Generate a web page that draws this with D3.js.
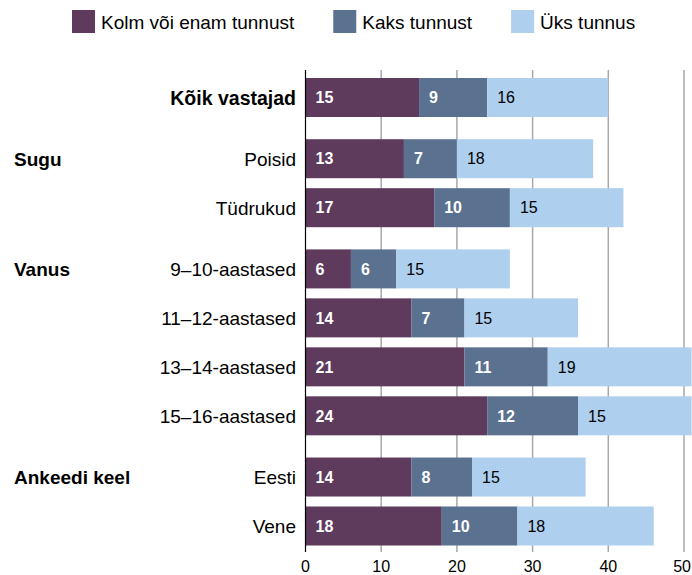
<!DOCTYPE html>
<html>
<head>
<meta charset="utf-8">
<script src="https://cdn.jsdelivr.net/npm/d3@7"></script>
<style>
  html, body { margin: 0; padding: 0; background: #fff; }
  svg { display: block; font-family: "Liberation Sans", Arial, sans-serif; }
</style>
</head>
<body>
<svg id="chart" width="692" height="575"></svg>
<script>
// Rows of the chart, top to bottom
const categories = ["Kõik vastajad", "Poisid", "Tüdrukud", "9–10-aastased", "11–12-aastased",
                    "13–14-aastased", "15–16-aastased", "Eesti", "Vene"];
// Group each row belongs to ("" = overall row)
const groups = ["", "Sugu", "Sugu", "Vanus", "Vanus", "Vanus", "Vanus", "Ankeedi keel", "Ankeedi keel"];
const seriesNames = ["Kolm või enam tunnust", "Kaks tunnust", "Üks tunnus"];
const kolm = [15, 13, 17, 6, 14, 21, 24, 14, 18];
const kaks = [9, 7, 10, 6, 7, 11, 12, 8, 10];
const yks  = [16, 18, 15, 15, 15, 19, 15, 15, 18];
const xTicks = [0, 10, 20, 30, 40, 50];
const colors = ["#5e3a5c", "#5b7190", "#aecfee"];
const labelColors = ["#ffffff", "#ffffff", "#000000"];
const labelWeights = ["bold", "bold", "normal"];

const W = 692;
const svg = d3.select("#chart");

const rows = categories.map((c, i) => ({ cat: c, group: groups[i], v0: kolm[i], v1: kaks[i], v2: yks[i] }));

// Slot index per row: a quarter-row gap between groups
let slot = -1;
rows.forEach((r, i) => {
  slot += 1;
  if (i > 0 && r.group !== rows[i - 1].group) slot += 0.25;
  r.slot = slot;
});

const x = d3.scaleLinear().domain([0, 50]).range([305.5, 684]);
const y = d3.scaleLinear().domain([0, rows[rows.length - 1].slot]).range([97.5, 526]);
const barH = 39;
const gridTop = 70, gridBottom = 552;

// Grid lines
svg.append("g").selectAll("line").data(xTicks.filter(t => t > 0)).join("line")
  .attr("x1", d => x(d)).attr("x2", d => x(d))
  .attr("y1", gridTop).attr("y2", gridBottom)
  .attr("stroke", "#a8a8a8").attr("stroke-width", 1.5);

// Stacked bars
const stack = d3.stack().keys(["v0", "v1", "v2"]);
const stacked = stack(rows);

const layers = svg.append("g").selectAll("g").data(stacked).join("g")
  .attr("fill", (d, i) => colors[i]);

layers.selectAll("rect").data(d => d).join("rect")
  .attr("x", d => x(d[0]))
  .attr("width", d => x(d[1]) - x(d[0]))
  .attr("y", d => y(d.data.slot) - barH / 2)
  .attr("height", barH);

// Value labels
stacked.forEach((layer, li) => {
  svg.append("g").selectAll("text").data(layer).join("text")
    .attr("x", d => x(d[0]) + 10)
    .attr("y", d => y(d.data.slot))
    .attr("dy", "0.36em")
    .attr("font-size", 16)
    .attr("font-weight", labelWeights[li])
    .attr("fill", labelColors[li])
    .text(d => d[1] - d[0]);
});

// Zero axis line
svg.append("line")
  .attr("x1", x(0)).attr("x2", x(0))
  .attr("y1", gridTop).attr("y2", gridBottom)
  .attr("stroke", "#000").attr("stroke-width", 1.2);

// X tick labels (kept inside the right edge)
svg.append("g").selectAll("text").data(xTicks).join("text")
  .attr("y", 572)
  .attr("text-anchor", "middle")
  .attr("font-size", 16)
  .attr("fill", "#000")
  .text(d => d)
  .attr("x", function (d) {
    const half = this.getComputedTextLength() / 2;
    return Math.min(x(d), W - 1 - half);
  });

// Category labels
svg.append("g").selectAll("text").data(rows).join("text")
  .attr("x", 296)
  .attr("y", d => y(d.slot))
  .attr("dy", "0.36em")
  .attr("text-anchor", "end")
  .attr("font-size", d => d.group === "" ? 19.5 : 19)
  .attr("font-weight", d => d.group === "" ? "bold" : "normal")
  .attr("fill", "#000")
  .text(d => d.cat);

// Group labels, next to first row of each group
const groupFirst = rows.filter((r, i) => r.group !== "" && (i === 0 || rows[i - 1].group !== r.group));
svg.append("g").selectAll("text").data(groupFirst).join("text")
  .attr("x", 14)
  .attr("y", d => y(d.slot))
  .attr("dy", "0.36em")
  .attr("font-size", 19)
  .attr("font-weight", "bold")
  .attr("fill", "#000")
  .text(d => d.group);

// Legend
const legend = svg.append("g");
let lx = 72;
seriesNames.forEach((name, i) => {
  legend.append("rect").attr("x", lx).attr("y", 10).attr("width", 23).attr("height", 23).attr("fill", colors[i]);
  const t = legend.append("text").attr("x", lx + 29).attr("y", 28.5)
    .attr("font-size", 19).attr("fill", "#000").text(name);
  lx += 29 + t.node().getComputedTextLength() + 39;
});
</script>
</body>
</html>
